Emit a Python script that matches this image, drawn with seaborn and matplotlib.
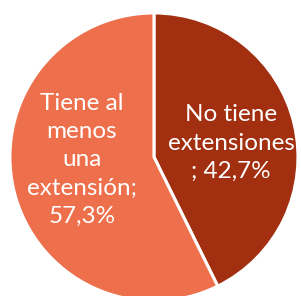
import matplotlib
matplotlib.use("Agg")
import matplotlib.pyplot as plt
import seaborn as sns

# slice data
labels = ["No tiene\nextensiones\n; 42,7%", "Tiene al\nmenos\nuna\nextensión;\n57,3%"]
shares = [42.7, 57.3]
colors = ["#A22F10", "#EE6F4B"]

sns.set_theme(style="white")
plt.rcParams['font.family'] = ['Lato', 'DejaVu Sans']

fig = plt.figure(figsize=(3.01, 2.96), dpi=100)
ax = fig.add_axes([0, 0, 1, 1])
wedges, _ = ax.pie(shares, colors=colors, startangle=90, counterclock=False,
                   wedgeprops=dict(edgecolor="white", linewidth=2.2))

# label positions inside each slice
ax.text(0.535, 0.097, labels[0], ha="center", va="center", color="white",
        fontsize=17.5, fontweight="normal", linespacing=1.42)
ax.text(-0.50, -0.02, labels[1], ha="center", va="center", color="white",
        fontsize=17.5, fontweight="normal", linespacing=1.42)

ax.set_xlim(-1.069, 1.021)
ax.set_ylim(-0.965, 1.090)
ax.set_aspect("auto")
ax.axis("off")
fig.savefig("out.png", dpi=100)
